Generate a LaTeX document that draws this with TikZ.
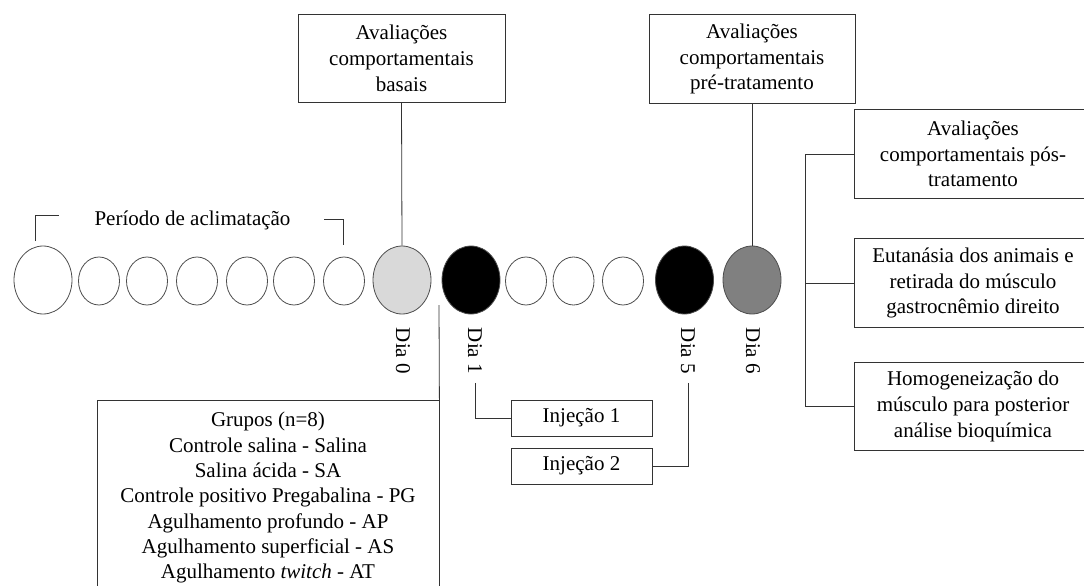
\documentclass[tikz,border=0pt]{standalone}
\usepackage{fontspec}
\setmainfont{Liberation Serif}
\usetikzlibrary{positioning,shapes.geometric}
\tikzset{day/.style={ellipse,draw=black!70,line width=0.6pt,inner sep=0pt,
        minimum width=30.75pt,minimum height=36pt},
        bigday/.style={day,minimum width=43.5pt,minimum height=51pt},
        evalbox/.style={draw=black!80,line width=0.6pt,align=center,inner sep=2pt,
        minimum height=66.5pt,font=\fontsize{15.75}{19.3}\selectfont},
        injbox/.style={draw=black!80,line width=0.6pt,minimum width=105.75pt,
        minimum height=27pt,font=\fontsize{15.75}{19}\selectfont},
        daylabel/.style={rotate=-90,font=\fontsize{15.75}{18}\selectfont},
        link/.style={draw=black!80,line width=0.6pt}}

\begin{document}
\begin{tikzpicture}[x=0.75pt,y=-0.75pt]
    \useasboundingbox (0,0) rectangle (1084,585);
    \node[bigday] (a0) at (43,280) {};
    \node[day] (a1) at (99,281) {};
    \node[day] (a2) at (147,281) {};
    \node[day] (a3) at (197,281) {};
    \node[day] (a4) at (247,281) {};
    \node[day] (a5) at (294,281) {};
    \node[day] (a6) at (344,281) {};
    \node[bigday,fill=black!15] (d0) at (402,280) {};
    \node[bigday,fill=black] (d1) at (471,280) {};
    \node[day] (b1) at (526,281) {};
    \node[day] (b2) at (573.5,281) {};
    \node[day] (b3) at (623,281) {};
    \node[bigday,fill=black] (d5) at (684.5,280) {};
    \node[bigday,fill=black!50] (d6) at (752,280) {};
    \node[daylabel] (l0) at (403,351) {Dia 0};
    \node[daylabel] (l1) at (475,351) {Dia 1};
    \node[daylabel] (l5) at (688,351) {Dia 5};
    \node[daylabel] (l6) at (753,351) {Dia 6};
    \node[font=\fontsize{15.75}{18}\selectfont] (aclim) at (192.5,220) {Período de aclimatação};
    \draw[link] (35,241) |- (58.5,215.5);
    \draw[link] (324,219) -| (343,245);
    \node[evalbox,minimum width=155.25pt] (basais) at (401.5,58.5)
       {Avaliações\\comportamentais\\basais};
    \node[evalbox,minimum width=154.5pt] (pre) at (752,59)
       {Avaliações\\comportamentais\\pré-tratamento};
    \node[evalbox,minimum width=178.5pt] (pos) at (973,154)
       {Avaliações\\comportamentais pós-\\tratamento};
    \node[evalbox,minimum width=178.5pt] (eut) at (973,283)
       {Eutanásia dos animais e\\retirada do músculo\\gastrocnêmio direito};
    \node[evalbox,minimum width=178.5pt] (homog) at (973,406.5)
       {Homogeneização do\\músculo para posterior\\análise bioquímica};
    \node[injbox] (inj1) at (581.5,418) {Injeção 1};
    \node[injbox] (inj2) at (581.5,466) {Injeção 2};
    \node[draw=black!80,line width=0.6pt,anchor=north,minimum width=256.5pt,align=center,
       inner ysep=9pt,font=\fontsize{15.75}{19}\selectfont] (grupos) at (268,400)
       {Grupos (n=8)\\Controle salina - Salina\\Salina ácida - SA\\
        Controle positivo Pregabalina - PG\\Agulhamento profundo - AP\\
        Agulhamento superficial - AS\\Agulhamento \textit{twitch} - AT};
    \coordinate (gtop) at (439,305);
    \coordinate (spine) at (805,283);
    \draw[link] (basais.south) -- (d0.north);
    \draw[link] (pre.south) -- (d6.north);
    \draw[link] (grupos.north east) -- (gtop);
    \draw[link,shorten <=3pt] (l1.east) |- (inj1.west);
    \draw[link,shorten <=3pt] (l5.east) |- (inj2.east);
    \draw[link] (pos.west) -| (spine) |- (homog.west);
    \draw[link] (eut.west) -- (spine);
\end{tikzpicture}
\end{document}
